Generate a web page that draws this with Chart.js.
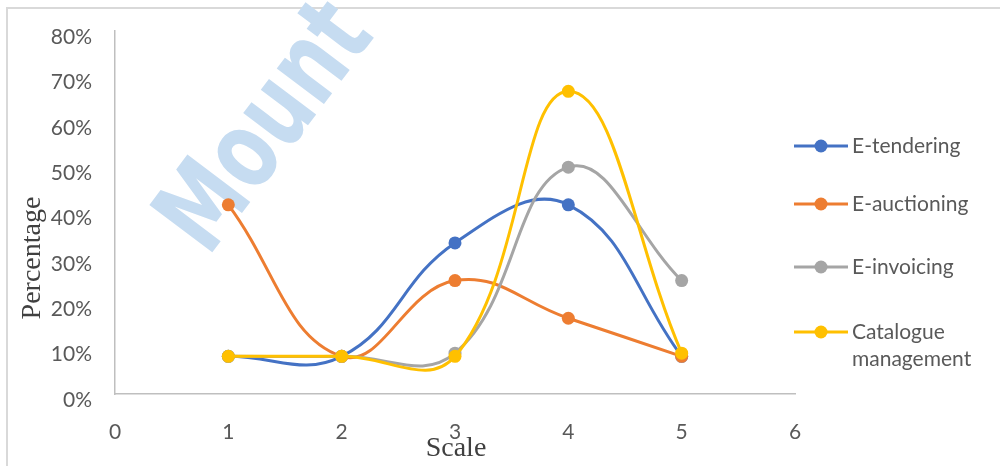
<!DOCTYPE html>
<html>
<head>
<meta charset="utf-8">
<script src="https://cdn.jsdelivr.net/npm/chart.js@4.4.1/dist/chart.umd.min.js"></script>
<style>
html,body{margin:0;padding:0;background:#fff;}
#wrap{width:1000px;height:466px;position:relative;}
</style>
</head>
<body>
<div id="wrap"><canvas id="c" width="1000" height="466"></canvas></div>
<script>
const scalePoints = [1, 2, 3, 4, 5];
const seriesNames = ["E-tendering", "E-auctioning", "E-invoicing", "Catalogue management"];
const legendLines = [["E-tendering"], ["E-auctioning"], ["E-invoicing"], ["Catalogue", "management"]];
const eTendering = [8.3, 8.3, 33.3, 41.7, 8.3];
const eAuctioning = [41.7, 8.3, 25.0, 16.7, 8.3];
const eInvoicing = [8.3, 8.3, 9.0, 50.0, 25.0];
const catalogueMgmt = [8.3, 8.3, 8.3, 66.7, 9.0];
const seriesColors = ["#4472C4", "#ED7D31", "#A5A5A5", "#FFC000"];
const yTicks = [0, 10, 20, 30, 40, 50, 60, 70, 80];
const xTicks = [0, 1, 2, 3, 4, 5, 6];

const allSeries = [eTendering, eAuctioning, eInvoicing, catalogueMgmt];

function mk(i) {
  return {
    label: seriesNames[i],
    data: scalePoints.map((x, k) => ({x: x, y: allSeries[i][k]})),
    borderColor: seriesColors[i],
    backgroundColor: seriesColors[i],
    borderWidth: 3,
    pointRadius: 6.5,
    pointHoverRadius: 6.5,
    pointBorderWidth: 0,
    tension: 0.42,
    fill: false,
    order: 3 - i
  };
}

const deco = {
  id: 'deco',
  beforeDraw(chart) {
    const ctx = chart.ctx;
    ctx.save();
    // outer frame (top & left)
    ctx.strokeStyle = '#d9d9d9';
    ctx.lineWidth = 2;
    ctx.beginPath();
    ctx.moveTo(7, 466);
    ctx.lineTo(7, 8);
    ctx.lineTo(1000, 8);
    ctx.stroke();
    // watermark
    ctx.translate(208, 258);
    ctx.rotate(-53 * Math.PI / 180);
    ctx.scale(0.72, 1);
    ctx.fillStyle = '#c6dcf1';
    ctx.font = 'bold 108px "DejaVu Sans"';
    ctx.textBaseline = 'alphabetic';
    ctx.fillText('Mount', 0, 0);
    ctx.restore();
  },
  afterDraw(chart) {
    const ctx = chart.ctx;
    ctx.save();
    // axis titles
    ctx.fillStyle = '#404040';
    ctx.font = '28px "Liberation Serif"';
    ctx.textAlign = 'center';
    ctx.textBaseline = 'middle';
    ctx.fillText('Scale', 456, 449);
    ctx.translate(33, 258);
    ctx.rotate(-Math.PI / 2);
    ctx.fillText('Percentage', 0, 0);
    ctx.restore();
    // legend
    ctx.save();
    const ys = [146, 204, 267, 332];
    chart.data.datasets.forEach((ds, i) => {
      const y = ys[i];
      ctx.strokeStyle = ds.borderColor;
      ctx.lineWidth = 3;
      ctx.beginPath();
      ctx.moveTo(794, y);
      ctx.lineTo(848, y);
      ctx.stroke();
      ctx.fillStyle = ds.borderColor;
      ctx.beginPath();
      ctx.arc(821, y, 6.5, 0, Math.PI * 2);
      ctx.fill();
      ctx.fillStyle = '#595959';
      ctx.font = '21px Lato';
      ctx.textAlign = 'left';
      ctx.textBaseline = 'middle';
      legendLines[i].forEach((t, j) => ctx.fillText(t, 852, y + j * 27));
    });
    ctx.restore();
  }
};

new Chart(document.getElementById('c'), {
  type: 'line',
  data: { datasets: [0, 1, 2, 3].map(mk) },
  plugins: [deco],
  options: {
    responsive: false,
    animation: false,
    devicePixelRatio: 1,
    layout: { padding: { left: 0, right: 205, top: 31, bottom: 0 } },
    plugins: { legend: { display: false }, tooltip: { enabled: false } },
    scales: {
      x: {
        type: 'linear',
        min: 0, max: 6,
        afterBuildTicks(s) { s.ticks = xTicks.map(v => ({value: v})); },
        afterFit(s) { s.height = 72; },
        grid: { display: false },
        border: { display: true, color: '#bfbfbf', width: 1.5 },
        ticks: { color: '#595959', font: { family: 'Lato', size: 21 }, padding: 18, maxRotation: 0 }
      },
      y: {
        type: 'linear',
        min: 0, max: 80,
        afterBuildTicks(s) { s.ticks = yTicks.map(v => ({value: v})); },
        afterFit(s) { s.width = 115; },
        grid: { display: false },
        border: { display: true, color: '#bfbfbf', width: 1.5 },
        ticks: { color: '#595959', font: { family: 'Lato', size: 21 }, padding: 15, labelOffset: 6,
                 callback: v => v + '%' }
      }
    }
  }
});
</script>
</body>
</html>
